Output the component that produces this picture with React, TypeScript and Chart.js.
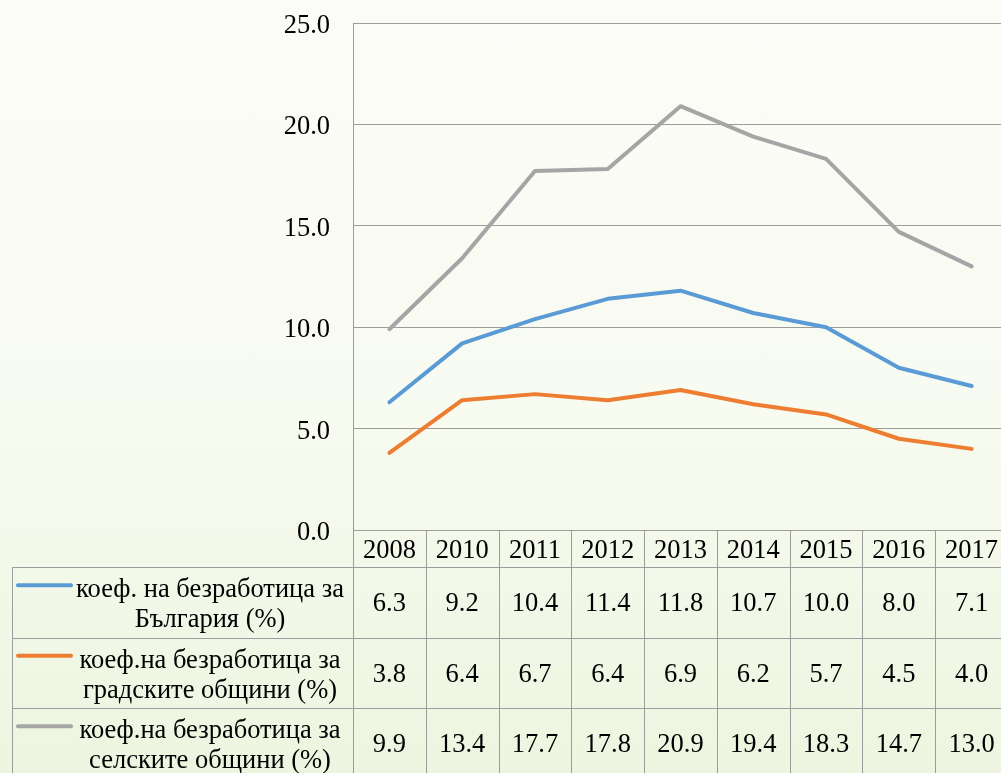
import React, { useEffect, useRef } from "react";
import { Chart, registerables } from "chart.js";

Chart.register(...registerables);

const years = ["2008", "2010", "2011", "2012", "2013", "2014", "2015", "2016", "2017"];
const bulgaria = [6.3, 9.2, 10.4, 11.4, 11.8, 10.7, 10.0, 8.0, 7.1];
const urban = [3.8, 6.4, 6.7, 6.4, 6.9, 6.2, 5.7, 4.5, 4.0];
const rural = [9.9, 13.4, 17.7, 17.8, 20.9, 19.4, 18.3, 14.7, 13.0];
const seriesLabels = [
  ["коеф. на безработица за", "България (%)"],
  ["коеф.на безработица за", "градските общини (%)"],
  ["коеф.на безработица за", "селските общини (%)"],
];
const seriesColors = ["#5B9BD5", "#ED7D31", "#A5A5A5"];
const seriesValues = [bulgaria, urban, rural];

const FONT_SIZE = 26.5;
const FONT_FAMILY = "'Liberation Serif', 'Times New Roman', serif";
const FONT = `${FONT_SIZE}px ${FONT_FAMILY}`;
const GRID = "#9c9c9c";

const tablePlugin = {
  id: "dataTable",
  afterDraw(chart: any) {
    const ctx = chart.ctx;
    const x = chart.scales.x;
    const area = chart.chartArea;
    const n = years.length;
    const band = x.getPixelForValue(1) - x.getPixelForValue(0);
    const left0 = x.getPixelForValue(0) - band / 2;
    const legendLeft = 12;
    const headerTop = area.bottom;
    const headerH = 37;
    const rowH = 70.5;
    const bottom = headerTop + headerH + rowH * 3 + 10;
    ctx.save();
    ctx.strokeStyle = GRID;
    ctx.lineWidth = 1;
    const hline = (y: number, x1: number, x2: number) => {
      ctx.beginPath();
      ctx.moveTo(x1, Math.round(y) + 0.5);
      ctx.lineTo(x2, Math.round(y) + 0.5);
      ctx.stroke();
    };
    const vline = (xx: number, y1: number, y2: number) => {
      ctx.beginPath();
      ctx.moveTo(Math.round(xx) + 0.5, y1);
      ctx.lineTo(Math.round(xx) + 0.5, y2);
      ctx.stroke();
    };
    const right = left0 + band * n;
    hline(headerTop, left0, right);
    for (let r = 0; r <= 2; r++) {
      hline(headerTop + headerH + rowH * r, legendLeft, right);
    }
    vline(legendLeft, headerTop + headerH, bottom);
    for (let i = 0; i <= n; i++) {
      vline(left0 + band * i, headerTop, bottom);
    }
    ctx.fillStyle = "#000";
    ctx.font = FONT;
    ctx.textAlign = "center";
    ctx.textBaseline = "alphabetic";
    for (let i = 0; i < n; i++) {
      const cx = x.getPixelForValue(i);
      ctx.fillText(years[i], cx, headerTop + headerH / 2 + 9);
      for (let r = 0; r < 3; r++) {
        const cy = headerTop + headerH + rowH * r + rowH / 2;
        ctx.fillText(seriesValues[r][i].toFixed(1), cx, cy + 9);
      }
    }
    for (let r = 0; r < 3; r++) {
      const cy = headerTop + headerH + rowH * r + rowH / 2;
      const l1 = cy - 5;
      const l2 = cy + 25;
      ctx.strokeStyle = seriesColors[r];
      ctx.lineWidth = 4;
      ctx.lineCap = "round";
      ctx.beginPath();
      ctx.moveTo(18, l1 - 12);
      ctx.lineTo(71, l1 - 12);
      ctx.stroke();
      ctx.fillStyle = "#000";
      ctx.fillText(seriesLabels[r][0], 210, l1);
      ctx.fillText(seriesLabels[r][1], 210, l2);
    }
    ctx.restore();
  },
};

export default function App() {
  const ref = useRef<HTMLCanvasElement>(null);
  useEffect(() => {
    if (!ref.current) return;
    const chart = new Chart(ref.current, {
      type: "line",
      data: {
        labels: years,
        datasets: seriesValues.map((v, i) => ({
          label: seriesLabels[i].join(" "),
          data: v,
          borderColor: seriesColors[i],
          backgroundColor: seriesColors[i],
          borderWidth: 4,
          pointRadius: 0,
          tension: 0,
          borderCapStyle: "round" as const,
          borderJoinStyle: "round" as const,
        })),
      },
      options: {
        responsive: false,
        animation: false,
        layout: { padding: { left: 0, right: 0, top: 23, bottom: 243 } },
        plugins: { legend: { display: false }, tooltip: { enabled: false } },
        scales: {
          x: { display: false, offset: true },
          y: {
            min: 0,
            max: 25,
            afterFit: (s: any) => {
              s.width = 353;
              s.paddingTop = 0;
              s.paddingBottom = 0;
            },
            ticks: {
              stepSize: 5,
              padding: 23,
              labelOffset: 3,
              color: "#000",
              font: { family: FONT_FAMILY, size: FONT_SIZE },
              callback: (v: any) => Number(v).toFixed(1),
            },
            grid: { color: GRID, drawTicks: false, lineWidth: 1 },
            border: { display: true, color: GRID, width: 1 },
          },
        },
      },
      plugins: [tablePlugin],
    });
    return () => chart.destroy();
  }, []);
  return (
    <div
      style={{
        position: "fixed",
        left: 0,
        top: 0,
        width: 1001,
        height: 773,
        overflow: "hidden",
        background: "linear-gradient(to bottom, #fbfcf7 0%, #f8fbf1 50%, #edf5e0 100%)",
      }}
    >
      <canvas ref={ref} width={1008} height={773} style={{ display: "block", width: 1008, height: 773 }} />
    </div>
  );
}
